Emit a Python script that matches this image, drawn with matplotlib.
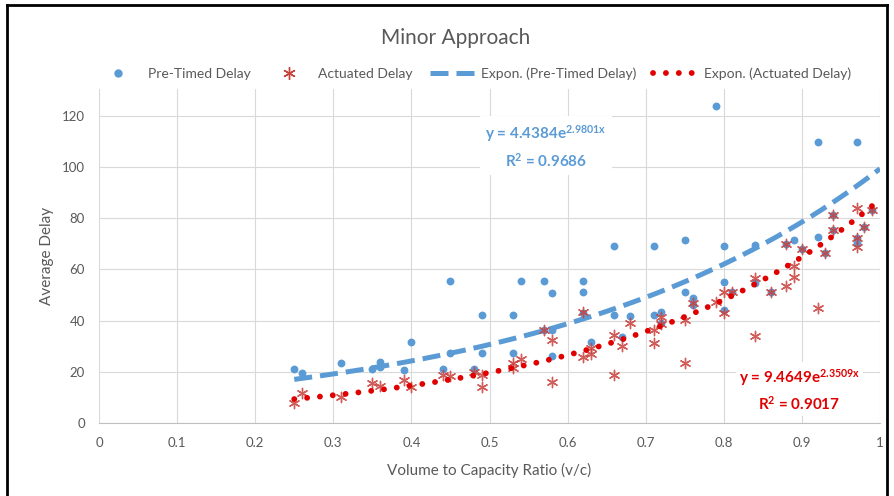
import numpy as np
import matplotlib
matplotlib.use("Agg")
import matplotlib.pyplot as plt
from matplotlib.lines import Line2D

plt.rcParams['font.family'] = ['Lato', 'DejaVu Sans']
plt.rcParams['mathtext.default'] = 'regular'

# pre-timed delay points (v/c, delay)
pre_x = [0.25, 0.26, 0.31, 0.35, 0.36, 0.36, 0.39, 0.40, 0.44, 0.45, 0.45, 0.48, 0.49, 0.49,
         0.53, 0.53, 0.54, 0.57, 0.58, 0.58, 0.57, 0.58,
         0.62, 0.62, 0.62, 0.63, 0.66, 0.66, 0.67, 0.68, 0.71, 0.71, 0.72, 0.72, 0.75, 0.75,
         0.76, 0.76, 0.79, 0.80, 0.80, 0.80, 0.81, 0.84, 0.84, 0.86, 0.88, 0.89, 0.90, 0.92,
         0.92, 0.93, 0.94, 0.94, 0.97, 0.97, 0.97, 0.98, 0.99]
pre_y = [21, 19.7, 23.6, 21, 24, 22, 20.7, 31.5, 21, 55.6, 27.2, 21, 27.2, 42.2,
         42.2, 27.2, 55.6, 55.6, 50.9, 36.3, 36.3, 26,
         55.6, 51.1, 43.1, 31.8, 69.3, 42.2, 33.7, 41.8, 69.3, 42.1, 43.5, 39, 71.4, 51.1,
         48.7, 46, 123.8, 69.3, 55, 44.2, 51.3, 69.5, 54.6, 51.3, 70, 71.5, 67.9, 109.7,
         72.7, 66.3, 81.3, 75.4, 109.7, 72.2, 70.5, 76.7, 83.2]

# actuated delay points
act_x = [0.25, 0.26, 0.31, 0.35, 0.36, 0.39, 0.40, 0.44, 0.45, 0.48, 0.49, 0.49, 0.53, 0.53,
         0.54, 0.57, 0.58, 0.58, 0.62, 0.62, 0.63, 0.63, 0.66, 0.66, 0.67, 0.68, 0.71, 0.71,
         0.72, 0.72, 0.75, 0.75, 0.76, 0.79, 0.80, 0.80, 0.81, 0.84, 0.84, 0.86, 0.88, 0.88,
         0.89, 0.89, 0.90, 0.92, 0.93, 0.94, 0.94, 0.97, 0.97, 0.97, 0.98, 0.99]
act_y = [7.7, 11.6, 10, 15.5, 14.6, 16.8, 14.2, 18.8, 18.4, 20, 18.8, 14.2, 23.3, 21.6,
         24.9, 36.3, 32.4, 16.1, 43.5, 25.9, 29.2, 27, 34.4, 18.8, 30, 39, 36.3, 31.1,
         41.6, 38.6, 40.2, 23.3, 46.8, 47.4, 51.3, 43.1, 51.3, 56.5, 33.8, 51.3, 53.5, 70,
         61.3, 57, 67.9, 44.8, 66.3, 81.3, 75.4, 83.9, 72.2, 68.9, 76.7, 83.2]

# exponential trendlines as drawn (a * exp(b x))
blue_a, blue_b = 9.4649, 2.3509
red_a, red_b = 4.4384, 2.9801
blue_label = "y = 4.4384e$^{2.9801x}$\nR$^{2}$ = 0.9686"
red_label = "y = 9.4649e$^{2.3509x}$\nR$^{2}$ = 0.9017"

blue = "#5B9BD5"
red = "#E00000"
star = "#C8413C"
grey = "#595959"

fig = plt.figure(figsize=(8.94, 4.96), dpi=100)
ax = fig.add_axes([99 / 894, 73 / 496, 781 / 894, 334 / 496])

ax.scatter(pre_x, pre_y, s=32, color=blue, zorder=3, linewidths=0)
ax.scatter(act_x, act_y, s=55, marker=(6, 2, 0), color=star, zorder=4, linewidths=1.0, alpha=0.85)

xt = np.linspace(0.25, 1.0, 200)
ax.plot(xt, blue_a * np.exp(blue_b * xt), color=blue, lw=3.6, ls=(0, (3.6, 1.6)), zorder=2)
ax.plot(xt, red_a * np.exp(red_b * xt), color=red, lw=4.2, ls=(0, (0.01, 2.2)),
        dash_capstyle='round', zorder=5)

ax.set_xlim(0, 1)
ax.set_ylim(0, 130.5)
ax.set_xticks(np.arange(0, 1.01, 0.1))
ax.set_xticklabels(["0", "0.1", "0.2", "0.3", "0.4", "0.5", "0.6", "0.7", "0.8", "0.9", "1"])
ax.set_yticks(range(0, 121, 20))
ax.tick_params(length=0, labelsize=9.5, colors=grey, pad=10)
ax.grid(color="#D9D9D9", lw=0.8)
ax.set_axisbelow(True)
for s in ["top", "right", "left"]:
    ax.spines[s].set_visible(False)
ax.spines["bottom"].set_color("#BFBFBF")

ax.set_xlabel("Volume to Capacity Ratio (v/c)", fontsize=11, color=grey, labelpad=10)
ax.set_ylabel("Average Delay", fontsize=11, color=grey, labelpad=6)

fig.text(0.51, 1 - 38 / 496, "Minor Approach", ha="center", va="center", fontsize=15, color=grey)

ax.text(0.572, 108, blue_label, ha="center", va="center", fontsize=11, fontweight="bold",
        color=blue, linespacing=1.5, zorder=6,
        bbox=dict(facecolor="white", edgecolor="none", pad=4))
ax.text(0.897, 13, red_label, ha="center", va="center", fontsize=11, fontweight="bold",
        color=red, linespacing=1.5, zorder=6,
        bbox=dict(facecolor="white", edgecolor="none", pad=2))

handles = [
    Line2D([], [], ls="none", marker="o", markersize=6, color=blue, markeredgewidth=0),
    Line2D([], [], ls="none", marker=(6, 2, 0), markersize=9, color=star, markeredgewidth=1),
    Line2D([], [], color=blue, lw=3.6, ls=(0, (3.6, 1.6))),
    Line2D([], [], color=red, lw=4.2, ls=(0, (0.01, 2.2)), dash_capstyle='round'),
]
labels = ["Pre-Timed Delay", "Actuated Delay", "Expon. (Pre-Timed Delay)", "Expon. (Actuated Delay)"]
leg = fig.legend(handles, labels, loc="center", bbox_to_anchor=(0.53, 1 - 74 / 496), ncol=4,
                 frameon=False, fontsize=10, handlelength=3.2, columnspacing=1.2, handletextpad=0.5)
for t in leg.get_texts():
    t.set_color(grey)

# frame of the screenshot
fig.add_artist(Line2D([7 / 894, 7 / 894], [0, 1 - 5 / 496], transform=fig.transFigure, color="black", lw=2))
fig.add_artist(Line2D([7 / 894, 887 / 894], [1 - 5 / 496, 1 - 5 / 496], transform=fig.transFigure, color="black", lw=2))
fig.add_artist(Line2D([887 / 894, 887 / 894], [0, 1 - 5 / 496], transform=fig.transFigure, color="black", lw=2))

fig.savefig("out.png", dpi=100)
